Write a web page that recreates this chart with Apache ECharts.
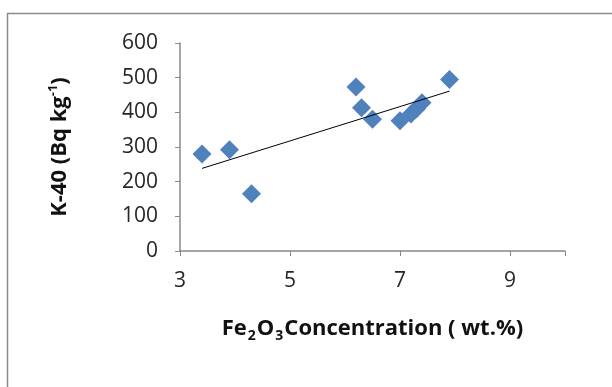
<!DOCTYPE html>
<html>
<head>
<meta charset="utf-8">
<script src="https://cdn.jsdelivr.net/npm/echarts@6/dist/echarts.min.js"></script>
<style>
  html, body { margin: 0; padding: 0; background: #fff; }
  #main { width: 612px; height: 387px; }
</style>
</head>
<body>
<div id="main"></div>
<script>
// Fe2O3 concentration (wt.%) vs K-40 activity (Bq/kg)
var fe2o3 = [3.4, 3.9, 4.3, 6.2, 6.3, 6.5, 7.0, 7.2, 7.3, 7.4, 7.9];
var k40 = [280, 292, 165, 473, 413, 380, 376, 395, 410, 428, 495];
var xTicks = [3, 5, 7, 9];
var yTicks = [0, 100, 200, 300, 400, 500, 600];

// linear trend line (least squares)
function trend(xs, ys) {
  var n = xs.length, mx = 0, my = 0;
  for (var i = 0; i < n; i++) { mx += xs[i]; my += ys[i]; }
  mx /= n; my /= n;
  var sxy = 0, sxx = 0;
  for (var j = 0; j < n; j++) {
    sxy += (xs[j] - mx) * (ys[j] - my);
    sxx += (xs[j] - mx) * (xs[j] - mx);
  }
  var b = sxy / sxx, a = my - b * mx;
  var x0 = Math.min.apply(null, xs), x1 = Math.max.apply(null, xs);
  return [[x0, a + b * x0], [x1, a + b * x1]];
}

var points = fe2o3.map(function(x, i) { return [x, k40[i]]; });
var font = 'Open Sans';

var myChart = echarts.init(document.getElementById('main'));
myChart.setOption({
  backgroundColor: '#fff',
  animation: false,
  graphic: [{
    type: 'rect',
    shape: { x: 7.5, y: 13.5, width: 620, height: 400 },
    style: { fill: 'none', stroke: '#8c8c8c', lineWidth: 1.5 },
    silent: true
  }],
  grid: { left: 180, top: 43, right: 47, bottom: 136 },
  xAxis: {
    type: 'value',
    min: 3, max: 10, interval: 2,
    axisLine: { lineStyle: { color: '#888', width: 1.5 } },
    axisTick: { show: true, length: 5, lineStyle: { color: '#888' } },
    splitLine: { show: false },
    axisLabel: {
      color: '#262626', fontFamily: font, fontSize: 21, margin: 20,
      formatter: function(v) { return xTicks.indexOf(v) >= 0 ? v : ''; }
    },
    name: '{b|Fe}{s|2}{b|O}{s|3}{b|Concentration ( wt.%)}',
    nameLocation: 'middle', nameGap: 64,
    nameTextStyle: {
      rich: {
        b: { fontFamily: font, fontWeight: 'bold', fontSize: 22, color: '#111' },
        s: { fontFamily: font, fontWeight: 'bold', fontSize: 14, color: '#111', verticalAlign: 'bottom', padding: [14, 1, 0, 1] }
      }
    }
  },
  yAxis: {
    type: 'value',
    min: 0, max: 600, interval: 100,
    axisLine: { show: true, lineStyle: { color: '#888', width: 1.5 } },
    axisTick: { show: true, length: 5, lineStyle: { color: '#888' } },
    splitLine: { show: false },
    axisLabel: {
      color: '#262626', fontFamily: font, fontSize: 21, margin: 22,
      formatter: function(v) { return yTicks.indexOf(v) >= 0 ? v : ''; }
    },
    name: '{b|K-40 (Bq kg}{s|-1}{b|)}',
    nameLocation: 'middle', nameGap: 108, nameRotate: 90,
    nameTextStyle: {
      rich: {
        b: { fontFamily: font, fontWeight: 'bold', fontSize: 22, color: '#111' },
        s: { fontFamily: font, fontWeight: 'bold', fontSize: 13, color: '#111', verticalAlign: 'top', padding: [0, 0, 12, 0] }
      }
    }
  },
  series: [{
    type: 'line',
    data: trend(fe2o3, k40),
    symbol: 'none',
    lineStyle: { color: '#000', width: 1 },
    z: 3
  }, {
    type: 'scatter',
    data: points,
    symbol: 'diamond',
    symbolSize: 19,
    itemStyle: { color: '#4F81BD', opacity: 1 },
    z: 2
  }]
});
</script>
</body>
</html>
